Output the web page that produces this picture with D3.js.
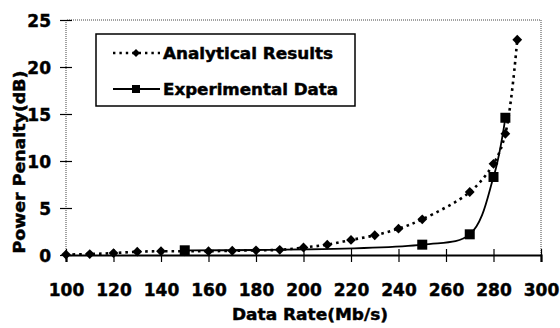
<!DOCTYPE html>
<html>
<head>
<meta charset="utf-8">
<script src="https://cdn.jsdelivr.net/npm/d3@7"></script>
<style>
  html, body { margin: 0; padding: 0; background: #fff; }
  svg { display: block; font-family: "DejaVu Sans", "Liberation Sans", Arial, sans-serif; font-weight: bold; }
  svg text { stroke: #000; stroke-width: 0.45px; fill: #000; }
</style>
</head>
<body>
<svg id="chart" width="560" height="328"></svg>
<script>
// Power penalty vs. data rate
const analyticalRate = [100, 110, 120, 130, 140, 150, 160, 170, 180, 190, 200, 210, 220, 230, 240, 250, 270, 280, 285, 290];
const analyticalPenalty = [0.05, 0.1, 0.2, 0.35, 0.4, 0.4, 0.4, 0.45, 0.5, 0.55, 0.8, 1.1, 1.6, 2.1, 2.8, 3.8, 6.7, 9.7, 12.9, 22.9];
const experimentalRate = [150, 250, 270, 280, 285];
const experimentalPenalty = [0.5, 1.1, 2.2, 8.3, 14.6];
const xTicks = [100, 120, 140, 160, 180, 200, 220, 240, 260, 280, 300];
const yTicks = [0, 5, 10, 15, 20, 25];
const seriesNames = ["Analytical Results", "Experimental Data"];

(function () {
  const svg = d3.select("#chart");
  const mLeft = 66, mRight = 541, mTop = 20, mBottom = 255;
  const FONT = "'DejaVu Sans', 'Liberation Sans', Arial, sans-serif";

  const x = d3.scaleLinear().domain([100, 300]).range([mLeft, mRight]);
  const y = d3.scaleLinear().domain([0, 25]).range([mBottom, mTop]);

  // plot frame: dotted grey top/right/left
  svg.append("path")
    .attr("d", `M${mLeft},${mBottom} V${mTop} H${mRight} V${mBottom}`)
    .attr("fill", "none").attr("stroke", "#444").attr("stroke-width", 1)
    .attr("stroke-dasharray", "1,1");

  // y axis ticks & labels
  const yAxis = svg.append("g").attr("transform", `translate(${mLeft},0)`)
    .call(d3.axisLeft(y).tickValues(yTicks).tickSize(6).tickFormat(d3.format("d")));
  yAxis.select(".domain").remove();
  yAxis.selectAll(".tick line").attr("x1", -6).attr("x2", 6).attr("stroke", "#000").attr("stroke-width", 1.2);
  yAxis.selectAll(".tick text").attr("x", -15).attr("dy", "0.36em")
    .style("font-size", "17px").style("font-weight", "bold").style("font-family", FONT).attr("fill", "#000");

  // x axis
  const xAxis = svg.append("g").attr("transform", `translate(0,${mBottom})`)
    .call(d3.axisBottom(x).tickValues(xTicks).tickSize(7));
  xAxis.select(".domain").attr("stroke", "#000").attr("stroke-width", 2.2);
  xAxis.selectAll(".tick line").attr("y1", -6).attr("y2", 7).attr("stroke", "#000").attr("stroke-width", 1.2);
  xAxis.selectAll(".tick text").attr("y", 41).attr("dy", 0)
    .style("font-size", "17px").style("font-weight", "bold").style("font-family", FONT).attr("fill", "#000");

  // axis titles
  svg.append("text").attr("x", 310).attr("y", 320)
    .attr("text-anchor", "middle").style("font-size", "16px")
    .attr("textLength", 156).attr("lengthAdjust", "spacingAndGlyphs").text("Data Rate(Mb/s)");
  svg.append("text").attr("transform", `translate(25,162) rotate(-90)`)
    .attr("text-anchor", "middle").style("font-size", "15px")
    .attr("textLength", 183).attr("lengthAdjust", "spacingAndGlyphs").text("Power Penalty(dB)");

  const analytical = analyticalRate.map((r, i) => ({ r, p: analyticalPenalty[i] }));
  const experimental = experimentalRate.map((r, i) => ({ r, p: experimentalPenalty[i] }));

  const line = d3.line().x(d => x(d.r)).y(d => y(d.p)).curve(d3.curveCatmullRom.alpha(0.5));

  // experimental: solid smoothed line
  svg.append("path").datum(experimental).attr("d", line)
    .attr("fill", "none").attr("stroke", "#000").attr("stroke-width", 1.8);

  // analytical: dotted smoothed line
  svg.append("path").datum(analytical).attr("d", line)
    .attr("fill", "none").attr("stroke", "#000").attr("stroke-width", 2.6)
    .attr("stroke-dasharray", "2.6,4");

  const diamond = d3.symbol().type(d3.symbolSquare).size(48);
  svg.append("g").selectAll("path").data(analytical).join("path")
    .attr("d", diamond)
    .attr("transform", d => `translate(${x(d.r)},${y(d.p)}) rotate(45)`)
    .attr("fill", "#000");

  svg.append("g").selectAll("rect").data(experimental).join("rect")
    .attr("x", d => x(d.r) - 5).attr("y", d => y(d.p) - 5)
    .attr("width", 10).attr("height", 10).attr("fill", "#000");

  // legend
  const lg = svg.append("g");
  lg.append("rect").attr("x", 96).attr("y", 34).attr("width", 259).attr("height", 72)
    .attr("fill", "#fff").attr("stroke", "#000").attr("stroke-width", 1.5);
  const rows = [
    { name: seriesNames[0], yy: 53, dotted: true, w: 170 },
    { name: seriesNames[1], yy: 89, dotted: false, w: 175 }
  ];
  rows.forEach(rw => {
    lg.append("line").attr("x1", 113).attr("x2", 160).attr("y1", rw.yy).attr("y2", rw.yy)
      .attr("stroke", "#000").attr("stroke-width", rw.dotted ? 2.4 : 1.8)
      .attr("stroke-dasharray", rw.dotted ? "2.4,4" : null);
    if (rw.dotted) {
      lg.append("path").attr("d", d3.symbol().type(d3.symbolSquare).size(32)())
        .attr("transform", `translate(136,${rw.yy}) rotate(45)`).attr("fill", "#000");
    } else {
      lg.append("rect").attr("x", 132).attr("y", rw.yy - 4).attr("width", 8).attr("height", 8).attr("fill", "#000");
    }
    lg.append("text").attr("x", 163).attr("y", rw.yy + 5.5).style("font-size", "15px")
      .attr("textLength", rw.w).attr("lengthAdjust", "spacingAndGlyphs").text(rw.name);
  });
})();
</script>
</body>
</html>
